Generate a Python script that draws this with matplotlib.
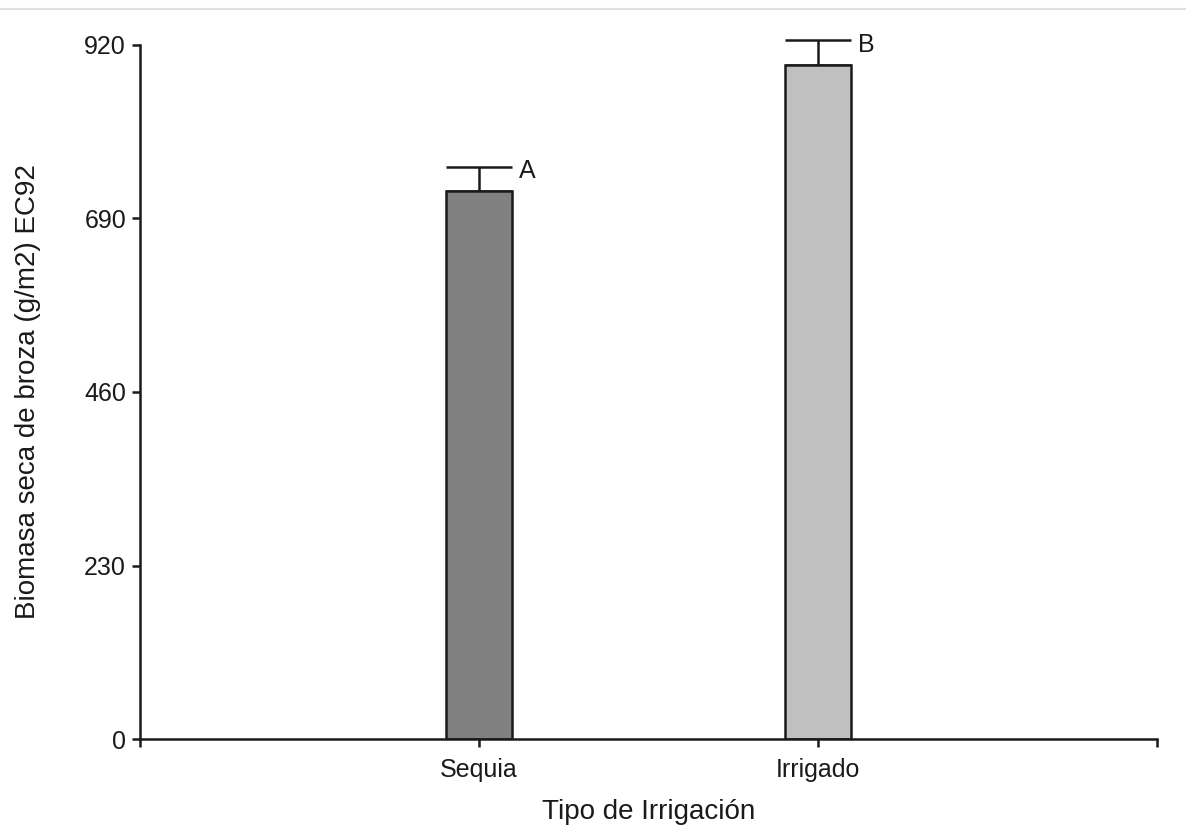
import matplotlib
matplotlib.use("Agg")
import matplotlib.pyplot as plt
from matplotlib.lines import Line2D

# data
categories = ["Sequia", "Irrigado"]
means = [726, 894]
errors = [32, 32]
letters = ["A", "B"]
bar_colors = ["#808080", "#c0c0c0"]
yticks = [0, 230, 460, 690, 920]

plt.rcParams["font.family"] = ["Liberation Sans", "DejaVu Sans"]

fig = plt.figure(figsize=(11.86, 8.27), dpi=100)
ax = fig.add_axes([0.118, 0.1064, 0.8576, 0.8392])

positions = [1, 2]
width = 0.195
ax.bar(positions, means, width=width, color=bar_colors, edgecolor="#1a1a1a",
       linewidth=1.8, zorder=2)
eb = ax.errorbar(positions, means, yerr=[[0, 0], errors], fmt="none",
                 ecolor="#1a1a1a", elinewidth=1.8, capsize=24, capthick=1.8,
                 zorder=1)
for art in eb.lines[1] + eb.lines[2]:
    art.set_clip_on(False)

for x, m, e, lab in zip(positions, means, errors, letters):
    ax.annotate(lab, (x + width / 2, m + e), xytext=(5, -3),
                textcoords="offset points", ha="left", va="center",
                fontsize=18, color="#1a1a1a", annotation_clip=False)

ax.set_xlim(0, 3)
ax.set_ylim(0, 920)
ax.set_xticks([0] + positions + [3])
ax.set_xticklabels([""] + categories + [""])
ax.set_yticks(yticks)
ax.set_yticklabels([str(v) for v in yticks])

for side in ["top", "right"]:
    ax.spines[side].set_visible(False)
for side in ["left", "bottom"]:
    ax.spines[side].set_linewidth(1.8)
    ax.spines[side].set_color("#1a1a1a")

ax.tick_params(axis="both", direction="out", length=6, width=1.8,
               color="#1a1a1a", labelsize=18, labelcolor="#1a1a1a", pad=4)
ax.tick_params(axis="x", pad=8)

ax.set_xlabel("Tipo de Irrigación", fontsize=20, color="#1a1a1a", labelpad=12)
ax.set_ylabel("Biomasa seca de broza (g/m2) EC92", fontsize=20,
              color="#1a1a1a", labelpad=31)

# thin grey rule along the very top of the picture
fig.add_artist(Line2D([0, 1], [1 - 9 / 827, 1 - 9 / 827], color="#e0e0e0",
                      linewidth=1.5, transform=fig.transFigure))

fig.savefig("out.png", dpi=100)
